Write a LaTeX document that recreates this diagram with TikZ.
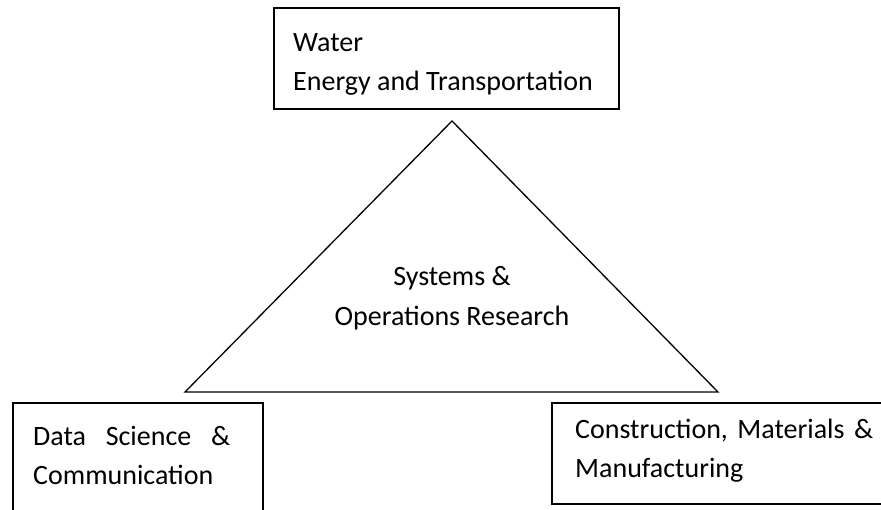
\documentclass[tikz,border=0pt]{standalone}
\usepackage{fontspec}
\setmainfont{Carlito}
\begin{document}
\begin{tikzpicture}[x=1pt,y=-1pt,
  box/.style={draw=black,line width=1.3pt,fill=none},
  lbl/.style={inner sep=0pt,anchor=base west,font=\fontsize{28}{39}\selectfont},
  clbl/.style={inner sep=0pt,anchor=base,font=\fontsize{28}{39}\selectfont}]
\path[use as bounding box,clip] (0,0) rectangle (881,509);
% boxes
\draw[box] (274,8) rectangle (619,109);
\draw[box] (13,403) rectangle (263,540);
\draw[box] (552,403) rectangle (910,504);
% triangle
\coordinate (apex) at (452,121);
\coordinate (bl) at (185,392);
\coordinate (br) at (718,392);
\draw[line width=1.3pt,line join=miter] (apex) -- (br) -- (bl) -- cycle;
% texts
\node[lbl] (w1) at (293,51) {Water};
\node[lbl] (w2) at (293,90) {Energy and Transportation};
\node[clbl] (s1) at (452,285) {Systems \&};
\node[clbl] (s2) at (452,325) {Operations Research};
\node[lbl] (d1) at (33,445) {\hbox to 197pt{Data\hfill Science\hfill \&}};
\node[lbl] (d2) at (33,484) {Communication};
\node[lbl] (c1) at (575,438) {\hbox to 298pt{Construction,\hfill Materials\hfill \&}};
\node[lbl] (c2) at (575,477) {Manufacturing};
\end{tikzpicture}
\end{document}
